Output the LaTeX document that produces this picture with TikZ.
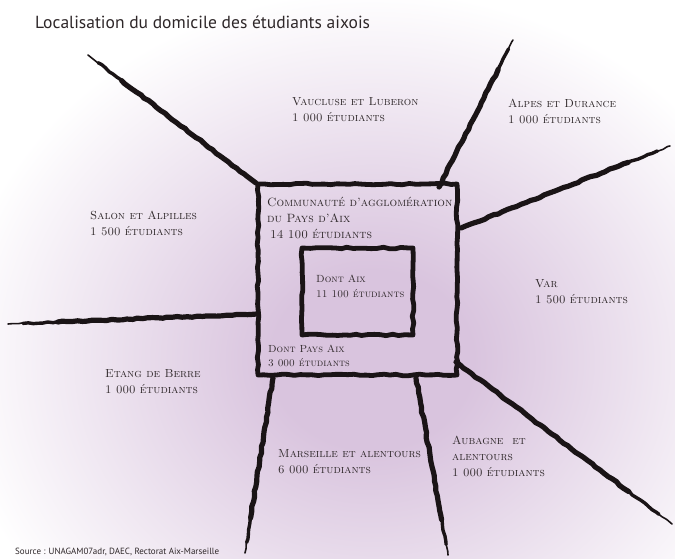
\documentclass[tikz,border=0pt]{standalone}
\usepackage{fontspec}
\newfontfamily\titlefont{PT Sans}
\usetikzlibrary{decorations.pathmorphing,calc}
\definecolor{bgin}{HTML}{D9C4DE}
\definecolor{ink}{HTML}{1A1416}
\definecolor{txt}{HTML}{2E2729}
\pgfdeclareradialshading{bgshade}{\pgfpoint{0bp}{0bp}}{color(0bp)=(bgin); color(6bp)=(bgin); color(25bp)=(white); color(50bp)=(white)}
\pgfmathsetseed{7}
\newcommand{\brushline}[2]{%
  \draw[brush] (#1) -- ($(#1)!0.80!(#2)$);
  \draw[brush,line width=3.4pt] ($(#1)!0.78!(#2)$) -- ($(#1)!0.94!(#2)$);
  \draw[brush,line width=1.6pt] ($(#1)!0.92!(#2)$) -- (#2);}
\begin{document}
\begin{tikzpicture}[x=1pt,y=-1pt,
  brush/.style={draw=ink,line width=5.2pt,line cap=round,line join=round,decorate,decoration={random steps,segment length=5pt,amplitude=0.7pt}},
  boxnode/.style={draw=ink,line width=4.8pt,inner sep=0pt,line join=round,decorate,decoration={random steps,segment length=6pt,amplitude=0.8pt}},
  lbl/.style={anchor=north west,align=left,text=txt,inner sep=0pt,font=\fontsize{11.7}{16}\selectfont\scshape},
  midlbl/.style={lbl,font=\fontsize{12}{16}\selectfont\scshape},
  smlbl/.style={lbl,font=\fontsize{10.4}{15}\selectfont\scshape},
  tiny/.style={lbl,font=\fontsize{10.3}{13.5}\selectfont\scshape}]
\useasboundingbox (0,0) rectangle (675,558);
\begin{scope}
  \clip (0,0) rectangle (675,558);
  \fill[white] (0,0) rectangle (675,558);
  \shade[shading=bgshade] (372-420,360-370) rectangle (372+420,360+370);
\end{scope}

% boxes
\node[boxnode,minimum width=199pt,minimum height=191pt] (outer) at (357.5,279.5) {};
\node[boxnode,minimum width=111pt,minimum height=87pt] (inner) at (357.5,291.5) {};

% connector end points
\coordinate (vs) at (256,183); \coordinate (ve) at (88,55);
\coordinate (as) at (439,187); \coordinate (ae) at (513,40);
\coordinate (rs) at (461,228); \coordinate (re) at (670,146);
\coordinate (ss) at (456,362); \coordinate (se) at (672,524);
\coordinate (bs) at (416,378); \coordinate (be) at (448,555);
\coordinate (ms) at (273,378); \coordinate (me) at (245,553);
\coordinate (es) at (257,314); \coordinate (ee) at (8,324);
\brushline{vs}{ve}
\brushline{as}{ae}
\brushline{rs}{re}
\brushline{ss}{se}
\brushline{bs}{be}
\brushline{ms}{me}
\brushline{es}{ee}

% title and source
\node[anchor=west,inner sep=0pt,text=txt,font=\titlefont\fontsize{17.5}{20}\selectfont] (title) at (35,22) {Localisation du domicile des étudiants aixois};
\node[anchor=west,inner sep=0pt,text=txt,font=\titlefont\fontsize{9}{10}\selectfont] (src) at (15,552) {Source : UNAGAM07adr, DAEC, Rectorat Aix-Marseille};

% labels
\node[lbl] (vau) at (292,97) {Vaucluse et Luberon\\1 000 étudiants};
\node[lbl] (alp) at (508,99) {Alpes et Durance\\1 000 étudiants};
\node[lbl] (sal) at (90,211) {Salon et Alpilles\\1 500 étudiants};
\node[lbl] (var) at (535,279) {Var\\1 500 étudiants};
\node[lbl] (eta) at (105,369) {Etang de Berre\\1 000 étudiants};
\node[lbl] (mar) at (278,449) {Marseille et alentours\\6 000 étudiants};
\node[lbl] (aub) at (452,436) {Aubagne\ \ et\\alentours\\1 000 étudiants};
\node[midlbl] (cpa) at (267,197) {Communauté d'agglomération\\du Pays d'Aix\\\hspace*{3pt}14 100 étudiants};
\node[smlbl] (aix) at (316,275) {Dont Aix\\11 100 étudiants};
\node[tiny] (pays) at (268,345) {Dont Pays Aix\\3 000 étudiants};
\end{tikzpicture}
\end{document}
